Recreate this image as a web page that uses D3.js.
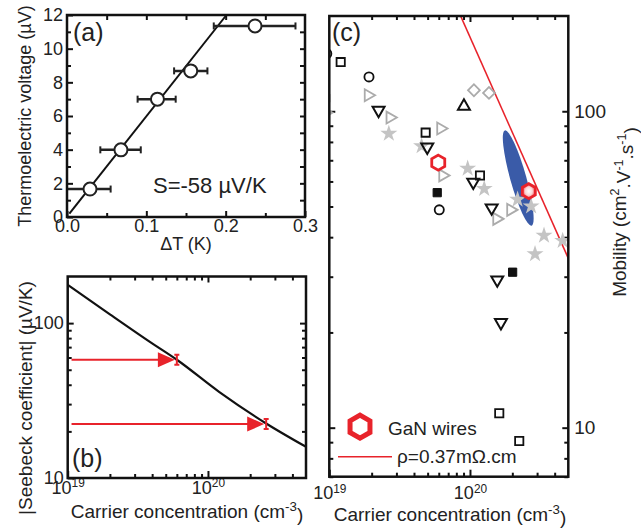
<!DOCTYPE html>
<html>
<head>
<meta charset="utf-8">
<title>Seebeck / mobility</title>
<script src="https://d3js.org/d3.v7.min.js"></script>
<style>
  body { margin: 0; background: #fff; }
  svg text { font-family: "Liberation Sans", Arial, sans-serif; fill: #222; }
</style>
</head>
<body>
<svg id="fig" width="641" height="528"></svg>
<script>
// ---------- data ----------
// (a) thermoelectric voltage vs deltaT
var dT = [0.029, 0.068, 0.114, 0.156, 0.237];
var voltage = [1.66, 3.99, 7.0, 8.68, 11.35];
var dTlo = [0.0, 0.042, 0.089, 0.135, 0.185];
var dThi = [0.055, 0.093, 0.137, 0.177, 0.288];
var fitDT = [0.003, 0.201];
var fitV = [0.2, 12];

// (b) |S| vs carrier concentration
var nCurve = [1e19, 2e19, 4e19, 6e19, 1.2e20, 2.6e20, 5e20];
var sCurve = [177, 114, 74, 58, 36, 22.5, 15.9];
var nMeas = [6.0e19, 2.6e20];
var sMeas = [58, 22.3];
var nArrowStart = 1.065e19;

// (c) mobility vs carrier concentration, one array per marker
var openSquare = [[1.205e19, 143], [4.84e19, 85.6], [1.178e20, 62.7], [1.615e20, 11.1], [2.24e20, 9.08]];
var openCircle = [[9.6e18, 152], [1.915e19, 128.4], [6.05e19, 48.8]];
var filledSquare = [[9.4e18, 110], [5.85e19, 55.3], [2.01e20, 31.0]];
var downTri = [[2.24e19, 100.7], [4.97e19, 77.1], [1.055e20, 59.7], [1.426e20, 49.5], [1.563e20, 29.3], [1.66e20, 21.5]];
var upTri = [[9.06e19, 103.7]];
var greyRightTri = [[9.4e18, 99], [1.89e19, 112.4], [2.70e19, 95.5], [6.19e19, 88.2], [6.4e19, 62.7], [1.549e20, 45.7], [1.946e20, 48.8]];
var greyDiamond = [[1.067e20, 116.5], [1.365e20, 114.3]];
var greyStar = [[2.65e19, 85], [4.53e19, 77.6], [9.63e19, 65.9], [1.263e20, 56.9], [2.18e20, 52.6], [2.72e20, 50.1], [3.36e20, 40.5], [4.56e20, 39], [2.9e20, 35.4]];
var ganWires = [[5.95e19, 68.8], [2.62e20, 55.9]];
var ellipseEnds = [[1.77e20, 87], [2.74e20, 43.5]];
var rhoLine = [[8.58e19, 200], [5e20, 34.3]];

var red = "#e8232b";
var grey = "#ababab";
var svg = d3.select("#fig");

var defs = svg.append("defs");
var grad = defs.append("radialGradient").attr("id", "glow");
grad.append("stop").attr("offset", "0%").attr("stop-color", "#fff");
grad.append("stop").attr("offset", "55%").attr("stop-color", "#fbd6d6");
grad.append("stop").attr("offset", "100%").attr("stop-color", "#ee4a50");

function addAxis(g, gen, tx, ty, values, size, pad, fmt, fs) {
  var a = g.append("g").attr("transform", "translate(" + tx + "," + ty + ")")
    .call(gen.tickValues(values).tickSize(-size).tickPadding(pad).tickFormat(fmt || function () { return ""; }));
  a.select(".domain").remove();
  a.selectAll(".tick line").attr("stroke", "#111").attr("stroke-width", 2);
  a.attr("font-size", fs || 18).attr("font-family", null);
  a.selectAll(".tick text").attr("fill", "#222");
  return a;
}

function powLabels(a) {
  a.selectAll(".tick text").each(function (d) {
    var t = d3.select(this).text("");
    t.append("tspan").text("10");
    t.append("tspan").attr("dy", "-0.55em").attr("font-size", "0.66em").text(Math.round(Math.log10(d)));
  });
}

function hexPath(r) {
  return d3.line()(d3.range(6).map(function (i) {
    var a = Math.PI / 3 * i - Math.PI / 2;
    return [r * Math.cos(a), r * Math.sin(a)];
  })) + "Z";
}

// ---------- panel (a) ----------
var xa = d3.scaleLinear().domain([0, 0.3]).range([67, 305]);
var ya = d3.scaleLinear().domain([0, 12]).range([217, 15]);
var ga = svg.append("g");

addAxis(ga, d3.axisBottom(xa), 0, 217, [0, 0.1, 0.2, 0.3], 6, 2, d3.format(".1f"));
addAxis(ga, d3.axisBottom(xa), 0, 217, [0.05, 0.15, 0.25], 4, 2);
addAxis(ga, d3.axisTop(xa), 0, 15, [0.05, 0.1, 0.15, 0.2, 0.25], 5, 2);
addAxis(ga, d3.axisLeft(ya), 67, 0, d3.range(0, 13, 2), 6, 4, d3.format("d"));
addAxis(ga, d3.axisLeft(ya), 67, 0, d3.range(1, 12, 2), 4, 4);
addAxis(ga, d3.axisRight(ya), 305, 0, d3.range(1, 12), 5, 4);

ga.append("line")
  .attr("x1", xa(fitDT[0])).attr("y1", ya(fitV[0]))
  .attr("x2", xa(fitDT[1])).attr("y2", ya(fitV[1]))
  .attr("stroke", "#111").attr("stroke-width", 2);

var pa = ga.selectAll(".pt").data(dT).enter().append("g");
pa.append("line")
  .attr("x1", function (d, i) { return xa(dTlo[i]); })
  .attr("x2", function (d, i) { return xa(dThi[i]); })
  .attr("y1", function (d, i) { return ya(voltage[i]); })
  .attr("y2", function (d, i) { return ya(voltage[i]); })
  .attr("stroke", "#222").attr("stroke-width", 2.5);
[dTlo, dThi].forEach(function (arr) {
  pa.append("line")
    .attr("x1", function (d, i) { return xa(arr[i]); })
    .attr("x2", function (d, i) { return xa(arr[i]); })
    .attr("y1", function (d, i) { return ya(voltage[i]) - 3.5; })
    .attr("y2", function (d, i) { return ya(voltage[i]) + 3.5; })
    .attr("stroke", "#222").attr("stroke-width", 2);
});
pa.append("circle")
  .attr("cx", function (d) { return xa(d); })
  .attr("cy", function (d, i) { return ya(voltage[i]); })
  .attr("r", 6.5).attr("fill", "#fff").attr("stroke", "#222").attr("stroke-width", 2);

ga.append("rect").attr("x", 67).attr("y", 15).attr("width", 238).attr("height", 202)
  .attr("fill", "none").attr("stroke", "#111").attr("stroke-width", 2.5);

ga.append("text").attr("x", 73).attr("y", 41).attr("font-size", 25).text("(a)");
ga.append("text").attr("x", 153).attr("y", 193).attr("font-size", 22).text("S=-58 \u00b5V/K");
ga.append("text").attr("x", 186).attr("y", 250).attr("text-anchor", "middle").attr("font-size", 18).text("\u0394T (K)");
ga.append("text").attr("transform", "translate(31,116) rotate(-90)").attr("text-anchor", "middle")
  .attr("font-size", 18).text("Thermoelectric voltage (\u00b5V)");

// ---------- panel (b) ----------
var xb = d3.scaleLog().domain([1e19, 5e20]).range([67.7, 306]);
var yb = d3.scaleLog().domain([10, 200]).range([478, 276.5]);
var gb = svg.append("g");

var xMinor = [2e19, 3e19, 4e19, 5e19, 6e19, 7e19, 8e19, 9e19, 2e20, 3e20, 4e20];
var yMinorB = [20, 30, 40, 50, 60, 70, 80, 90];

powLabels(addAxis(gb, d3.axisBottom(xb), 0, 478, [1e19, 1e20], 7, 3, String));
addAxis(gb, d3.axisBottom(xb), 0, 478, xMinor, 4, 3);
addAxis(gb, d3.axisTop(xb), 0, 276.5, [1e20], 6, 2);
addAxis(gb, d3.axisTop(xb), 0, 276.5, xMinor, 4, 2);
addAxis(gb, d3.axisLeft(yb), 67.7, 0, [10, 100], 6, 4, d3.format("d"));
addAxis(gb, d3.axisLeft(yb), 67.7, 0, yMinorB, 4, 4);
addAxis(gb, d3.axisRight(yb), 306, 0, [100], 6, 4);
addAxis(gb, d3.axisRight(yb), 306, 0, yMinorB, 4, 4);

gb.append("path")
  .attr("d", d3.line().curve(d3.curveMonotoneX)
    .x(function (d) { return xb(d); })
    .y(function (d, i) { return yb(sCurve[i]); })(nCurve))
  .attr("fill", "none").attr("stroke", "#111").attr("stroke-width", 2.2);

nMeas.forEach(function (n, i) {
  var xt = xb(n) - 2, y = yb(sMeas[i]);
  gb.append("line").attr("x1", xb(nArrowStart)).attr("x2", xt - 16).attr("y1", y).attr("y2", y)
    .attr("stroke", red).attr("stroke-width", 2);
  gb.append("path").attr("d", d3.line()([[xt, y], [xt - 17, y - 7.5], [xt - 17, y + 7.5]]) + "Z")
    .attr("fill", red);
  var xe = xb(n);
  gb.append("path")
    .attr("d", "M" + (xe - 2.5) + "," + (y - 5) + "H" + (xe + 2.5) + "M" + xe + "," + (y - 5) + "V" + (y + 5) +
      "M" + (xe - 2.5) + "," + (y + 5) + "H" + (xe + 2.5))
    .attr("stroke", red).attr("stroke-width", 2).attr("fill", "none");
});

gb.append("rect").attr("x", 67.7).attr("y", 276.5).attr("width", 238.3).attr("height", 201.5)
  .attr("fill", "none").attr("stroke", "#111").attr("stroke-width", 2.5);

gb.append("text").attr("x", 72).attr("y", 467).attr("font-size", 25).text("(b)");
var tb = gb.append("text").attr("x", 187).attr("y", 518).attr("text-anchor", "middle").attr("font-size", 19);
tb.append("tspan").text("Carrier concentration (cm");
tb.append("tspan").attr("dy", "-0.55em").attr("font-size", "0.7em").text("-3");
tb.append("tspan").attr("dy", "0.55em").text(")");
gb.append("text").attr("transform", "translate(32,398) rotate(-90)").attr("text-anchor", "middle")
  .attr("font-size", 19).text("|Seebeck coefficient| (\u00b5V/K)");

// ---------- panel (c) ----------
var xc = d3.scaleLog().domain([1e19, 5e20]).range([329.3, 568.3]);
var yc = d3.scaleLog().domain([7, 200]).range([476.7, 16]);
var gc = svg.append("g");
var yMinorC = [7, 8, 9, 20, 30, 40, 50, 60, 70, 80, 90];

powLabels(addAxis(gc, d3.axisBottom(xc), 0, 476.7, [1e19, 1e20], 7, 10, String));
addAxis(gc, d3.axisBottom(xc), 0, 476.7, xMinor, 4, 3);
addAxis(gc, d3.axisTop(xc), 0, 16, [1e20], 6, 2);
addAxis(gc, d3.axisTop(xc), 0, 16, xMinor, 4, 2);
addAxis(gc, d3.axisLeft(yc), 329.3, 0, [10, 100], 6, 4);
addAxis(gc, d3.axisLeft(yc), 329.3, 0, yMinorC, 4, 4);
addAxis(gc, d3.axisRight(yc), 568.3, 0, [10, 100], 6, 6, d3.format("d"), 19);
addAxis(gc, d3.axisRight(yc), 568.3, 0, yMinorC, 4, 4);

defs.append("clipPath").attr("id", "clipc").append("rect")
  .attr("x", 329.3).attr("y", 16).attr("width", 239).attr("height", 460.7);
var pc = gc.append("g").attr("clip-path", "url(#clipc)");

// blue ellipse from its two ends
var e0 = [xc(ellipseEnds[0][0]), yc(ellipseEnds[0][1])];
var e1 = [xc(ellipseEnds[1][0]), yc(ellipseEnds[1][1])];
var ang = Math.atan2(e1[1] - e0[1], e1[0] - e0[0]) * 180 / Math.PI;
pc.append("ellipse")
  .attr("transform", "translate(" + (e0[0] + e1[0]) / 2 + "," + (e0[1] + e1[1]) / 2 + ") rotate(" + ang + ")")
  .attr("rx", Math.hypot(e1[0] - e0[0], e1[1] - e0[1]) / 2).attr("ry", 8)
  .attr("fill", "#3a5ba8");

pc.append("line")
  .attr("x1", xc(rhoLine[0][0])).attr("y1", yc(rhoLine[0][1]))
  .attr("x2", xc(rhoLine[1][0])).attr("y2", yc(rhoLine[1][1]))
  .attr("stroke", red).attr("stroke-width", 1.6);

function marks(data, type, size, rot, fill, stroke, sw) {
  pc.selectAll(null).data(data).enter().append("path")
    .attr("d", d3.symbol().type(type).size(size)())
    .attr("transform", function (d) { return "translate(" + xc(d[0]) + "," + yc(d[1]) + ") rotate(" + rot + ")"; })
    .attr("fill", fill).attr("stroke", stroke).attr("stroke-width", sw);
}
marks(greyStar, d3.symbolStar, 90, 0, "#c4c4c4", "none", 0);
marks(greyRightTri, d3.symbolTriangle, 62, 90, "none", grey, 1.8);
marks(greyDiamond, d3.symbolSquare, 70, 45, "none", grey, 1.8);
marks(openSquare, d3.symbolSquare, 68, 0, "none", "#111", 1.8);
marks(filledSquare, d3.symbolSquare, 68, 0, "#111", "#111", 1);
marks(openCircle, d3.symbolCircle, 66, 0, "none", "#111", 1.8);
marks(downTri, d3.symbolTriangle, 62, 180, "none", "#111", 2);
marks(upTri, d3.symbolTriangle, 62, 0, "none", "#111", 2);

pc.selectAll(".gan").data(ganWires).enter().append("path")
  .attr("d", hexPath(7.5))
  .attr("transform", function (d) { return "translate(" + xc(d[0]) + "," + yc(d[1]) + ")"; })
  .attr("fill", function (d, i) { return i === 1 ? "url(#glow)" : "#fff"; })
  .attr("stroke", red).attr("stroke-width", 2.8);

gc.append("rect").attr("x", 329.3).attr("y", 16).attr("width", 239).attr("height", 460.7)
  .attr("fill", "none").attr("stroke", "#111").attr("stroke-width", 2.5);

// legend
gc.append("path").attr("d", hexPath(11.5)).attr("transform", "translate(360,426.7)")
  .attr("fill", "none").attr("stroke", red).attr("stroke-width", 5);
gc.append("text").attr("x", 388).attr("y", 435).attr("font-size", 19).text("GaN wires");
gc.append("line").attr("x1", 338).attr("x2", 392).attr("y1", 456.7).attr("y2", 456.7)
  .attr("stroke", red).attr("stroke-width", 1.6);
gc.append("text").attr("x", 397).attr("y", 463).attr("font-size", 19).text("\u03c1=0.37m\u03a9.cm");

gc.append("text").attr("x", 332).attr("y", 41).attr("font-size", 25).text("(c)");
var tc = gc.append("text").attr("x", 450).attr("y", 521).attr("text-anchor", "middle").attr("font-size", 19);
tc.append("tspan").text("Carrier concentration (cm");
tc.append("tspan").attr("dy", "-0.55em").attr("font-size", "0.7em").text("-3");
tc.append("tspan").attr("dy", "0.55em").text(")");

var ty = gc.append("text").attr("transform", "translate(626,212) rotate(-90)").attr("text-anchor", "middle").attr("font-size", 19);
ty.append("tspan").text("Mobility (cm");
ty.append("tspan").attr("dy", "-0.55em").attr("font-size", "0.66em").text("2");
ty.append("tspan").attr("dy", "0.55em").text(".V");
ty.append("tspan").attr("dy", "-0.55em").attr("font-size", "0.66em").text("-1");
ty.append("tspan").attr("dy", "0.55em").text(".s");
ty.append("tspan").attr("dy", "-0.55em").attr("font-size", "0.66em").text("-1");
ty.append("tspan").attr("dy", "0.55em").text(")");
</script>
</body>
</html>
